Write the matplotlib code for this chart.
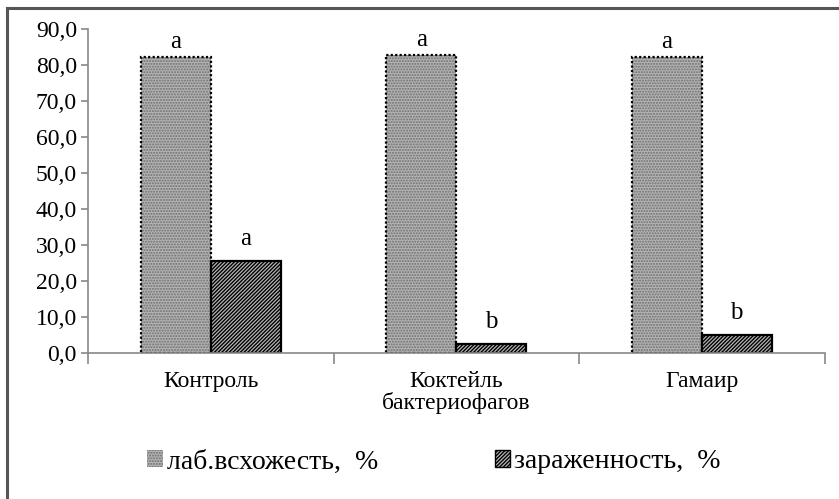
import matplotlib.pyplot as plt
import matplotlib.ticker as mticker
from matplotlib.patches import Patch
from matplotlib.lines import Line2D
import numpy as np

# данные
categories = ['Контроль', 'Коктейль\nбактериофагов', 'Гамаир']
germination = [82.2, 82.8, 82.2]   # лаб.всхожесть, %
infection = [25.6, 2.5, 5.0]       # зараженность, %
germ_letters = ['a', 'a', 'a']
inf_letters = ['a', 'b', 'b']
series_names = ['лаб.всхожесть,  %', 'зараженность,  %']

plt.rcParams['font.family'] = ['Liberation Serif', 'DejaVu Serif']
plt.rcParams['hatch.linewidth'] = 1.0

fig = plt.figure(figsize=(8.39, 4.99), dpi=100)
ax = fig.add_axes([88 / 839, 1 - 353 / 499, (824.5 - 88) / 839, (353 - 29) / 499])

x = np.arange(len(categories))
w = 0.285

# лаб.всхожесть: серый точечный узор с пунктирной рамкой
ax.bar(x - w / 2, germination, w, color='#b4b4b4', edgecolor='#6e6e6e',
       hatch='......', linewidth=0)
ax.bar(x - w / 2, germination, w, fill=False, edgecolor='black',
       linestyle=(0, (1, 1)), linewidth=1.6)

# зараженность: косая штриховка
ax.bar(x + w / 2, infection, w, color='#b8b8b8', edgecolor='black',
       hatch='/////////', linewidth=1.6)

for xi, v, t in zip(x - w / 2, germination, germ_letters):
    ax.annotate(t, (xi, v), xytext=(0, 3), textcoords='offset points',
                ha='center', va='bottom', fontsize=18)
for xi, v, t in zip(x + w / 2, infection, inf_letters):
    ax.annotate(t, (xi, v), xytext=(0, 8), textcoords='offset points',
                ha='center', va='bottom', fontsize=18)

ax.set_xlim(-0.5, len(categories) - 0.5)
ax.set_ylim(0, 90)
ax.set_yticks(np.arange(0, 91, 10))
ax.yaxis.set_major_formatter(mticker.FuncFormatter(lambda v, p: f'{v:.1f}'.replace('.', ',')))
ax.set_xticks(x)
ax.set_xticklabels(categories, linespacing=1.0)
ax.set_xticks(np.arange(-0.5, len(categories), 1), minor=True)
ax.tick_params(axis='x', which='major', length=0, pad=13, labelsize=17)
ax.tick_params(axis='x', which='minor', length=8, width=1.2, color='#888888')
ax.tick_params(axis='y', length=5, width=1.2, color='#888888', labelsize=17, pad=3)

for s in ['top', 'right']:
    ax.spines[s].set_visible(False)
for s in ['left', 'bottom']:
    ax.spines[s].set_color('#888888')
    ax.spines[s].set_linewidth(1.2)

handles = [Patch(facecolor='#b4b4b4', edgecolor='#6e6e6e', hatch='......', linewidth=0),
           Patch(facecolor='#b8b8b8', edgecolor='black', hatch='/////////', linewidth=1.0)]
fig.legend(handles, series_names, loc='center', bbox_to_anchor=(434 / 839, 1 - 462 / 499),
           ncol=2, frameon=False, fontsize=20, handlelength=0.55, handleheight=0.55,
           handletextpad=0.15, columnspacing=4.2)

# рамка рисунка (видны только левая и верхняя стороны)
fig.add_artist(Line2D([7 / 839, 7 / 839], [0, 1 - 8 / 499], color='#555555', linewidth=2.2))
fig.add_artist(Line2D([7 / 839, 1], [1 - 8 / 499, 1 - 8 / 499], color='#555555', linewidth=2.2))

fig.savefig('out.png', dpi=100)
